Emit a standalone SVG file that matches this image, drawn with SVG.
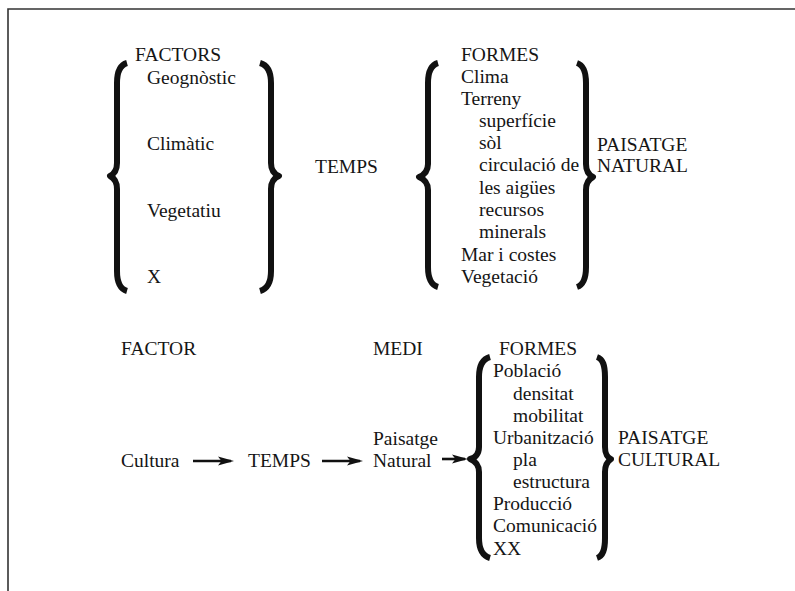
<svg xmlns="http://www.w3.org/2000/svg" width="795" height="591" viewBox="0 0 795 591">
<style>
text{font-family:"Liberation Serif","Times New Roman",serif;font-size:19.5px;fill:#151515}
.brace{fill:none;stroke:#111;stroke-width:6;stroke-linecap:butt;stroke-linejoin:round}
.arrow{stroke:#111;stroke-width:2.6;fill:none}
.frame{stroke:#333;stroke-width:1.6;fill:none}
</style>
<defs>
<marker id="ah" markerUnits="userSpaceOnUse" markerWidth="16" markerHeight="10" refX="13" refY="5" orient="auto">
<path d="M0,0.5 L16,5 L0,9.5 L3.5,5 z" fill="#111"/>
</marker>
</defs>
<rect width="795" height="591" fill="#fff"/>
<path class="frame" d="M8,591 L8,9 L795,9"/>

<g id="factors">
<text x="135" y="61">FACTORS</text>
<path class="brace" d="M127,63 C120,65 117,71 117,83 L117,163 C117,170 114,174 110,176 C114,178 117,182 117,189 L117,271 C117,283 120,289 127,291"/>
<text x="147" y="84">Geognòstic</text>
<text x="147" y="150">Climàtic</text>
<text x="147" y="217">Vegetatiu</text>
<text x="147" y="283">X</text>
<path class="brace" d="M260,63 C267,65 271,71 271,83 L271,163 C271,170 274,174 279,176 C274,178 271,182 271,189 L271,271 C271,283 267,289 260,291"/>
</g>

<g id="temps-top">
<text x="315" y="173">TEMPS</text>
</g>

<g id="formes-natural">
<text x="461" y="61">FORMES</text>
<path class="brace" d="M438,63 C431,65 428,71 428,83 L428,164 C428,171 424,175 419,177 C424,179 428,183 428,190 L428,267 C428,279 431,285 438,287"/>
<text x="461" y="83">Clima</text>
<text x="461" y="105">Terreny</text>
<text x="479" y="127">superfície</text>
<text x="479" y="149">sòl</text>
<text x="479" y="171">circulació de</text>
<text x="479" y="194">les aigües</text>
<text x="479" y="216">recursos</text>
<text x="479" y="238">minerals</text>
<text x="461" y="261">Mar i costes</text>
<text x="461" y="283">Vegetació</text>
<path class="brace" d="M577,63 C583,65 586,71 586,83 L586,164 C586,171 589,175 593,177 C589,179 586,183 586,190 L586,267 C586,279 583,285 577,287"/>
</g>

<g id="paisatge-natural">
<text x="597" y="151">PAISATGE</text>
<text x="597" y="172">NATURAL</text>
</g>

<g id="factor">
<text x="121" y="355">FACTOR</text>
<text x="121" y="467">Cultura</text>
</g>

<g id="temps-bottom">
<text x="248" y="467">TEMPS</text>
</g>

<g id="medi">
<text x="373" y="355">MEDI</text>
<text x="373" y="445">Paisatge</text>
<text x="373" y="467">Natural</text>
</g>

<g id="formes-cultural">
<text x="499" y="355">FORMES</text>
<path class="brace" d="M490,357 C483,359 479,365 479,377 L479,447 C479,454 475,458 470,459 C475,461 479,465 479,472 L479,538 C479,550 483,556 490,558"/>
<text x="493" y="377">Població</text>
<text x="513" y="400">densitat</text>
<text x="513" y="422">mobilitat</text>
<text x="493" y="444">Urbanització</text>
<text x="513" y="466">pla</text>
<text x="513" y="488">estructura</text>
<text x="493" y="510">Producció</text>
<text x="493" y="532">Comunicació</text>
<text x="493" y="555">XX</text>
<path class="brace" d="M597,357 C603,359 605,365 605,377 L605,447 C605,454 608,458 611,459 C608,461 605,465 605,472 L605,538 C605,550 603,556 597,558"/>
</g>

<g id="paisatge-cultural">
<text x="618" y="444">PAISATGE</text>
<text x="618" y="466">CULTURAL</text>
</g>

<g id="connectors">
<line class="arrow" x1="193" y1="461" x2="231" y2="461" marker-end="url(#ah)"/>
<line class="arrow" x1="322" y1="461" x2="360" y2="461" marker-end="url(#ah)"/>
<line class="arrow" x1="442" y1="459" x2="465" y2="459" marker-end="url(#ah)"/>
</g>
</svg>
